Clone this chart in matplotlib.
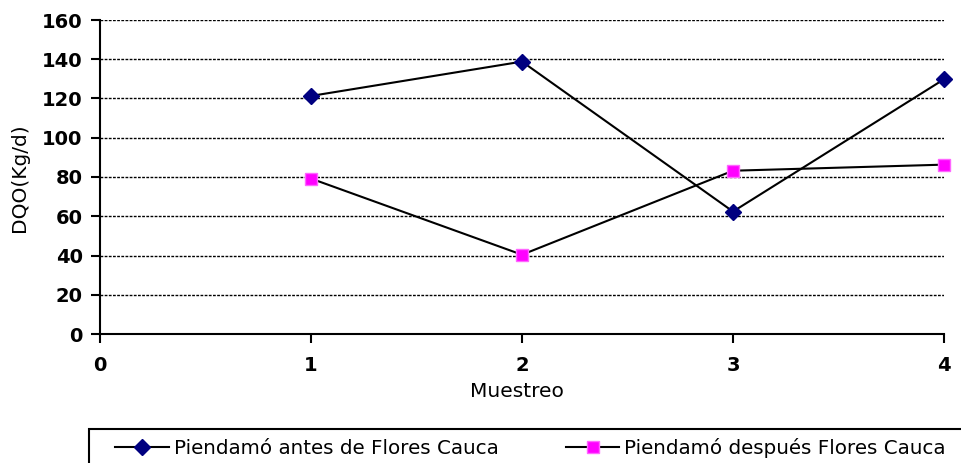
import numpy as np
import matplotlib
matplotlib.use('Agg')
import matplotlib.pyplot as plt
import matplotlib.patches as mpatches

muestreo = [1, 2, 3, 4]
antes = [121.3, 138.8, 62.4, 129.8]
despues = [79.2, 40.4, 83.2, 86.3]
label_antes = 'Piendamó antes de Flores Cauca'
label_despues = 'Piendamó después Flores Cauca'

plt.rc('font', family='DejaVu Sans')
fig = plt.figure(figsize=(9.62, 4.63), dpi=100)
ax = fig.add_axes([100/962, 1-334/463, 844/962, 314/463])

ax.plot(muestreo, antes, '-', color='black', linewidth=1.5, marker='D',
        markersize=8.5, markerfacecolor='#000080', markeredgecolor='#000080',
        label=label_antes, clip_on=False, zorder=3)
ax.plot(muestreo, despues, '-', color='black', linewidth=1.5, marker='s',
        markersize=8, markerfacecolor='#FF00FF', markeredgecolor='#FF66FF',
        label=label_despues, clip_on=False, zorder=3)

ax.set_xlim(0, 4)
ax.set_ylim(0, 160)
ax.set_xticks([0, 1, 2, 3, 4])
ax.set_yticks(np.arange(0, 161, 20))
ax.yaxis.grid(True, linestyle=(0, (2, 1)), color='black', linewidth=1.0)
ax.set_axisbelow(True)
for s in ['top', 'right']:
    ax.spines[s].set_visible(False)
for s in ['left', 'bottom']:
    ax.spines[s].set_linewidth(1.5)
ax.tick_params(axis='both', direction='out', length=6.5, width=1.5, labelsize=14)
ax.tick_params(axis='y', pad=6)
ax.tick_params(axis='x', pad=9)
for t in ax.get_xticklabels() + ax.get_yticklabels():
    t.set_fontweight('bold')

ax.set_xlabel('Muestreo', fontsize=14.5)
ax.xaxis.set_label_coords(0.494, -0.152)
ax.set_ylabel('DQO(Kg/d)', fontsize=14.5)
ax.yaxis.set_label_coords(-0.084, 0.497)

# legend box drawn separately so it can run off the bottom/right edge
box = mpatches.Rectangle((89/962, -0.05), 0.95, 0.05 + 1 - 429/463,
                         transform=fig.transFigure, fill=False,
                         edgecolor='black', linewidth=1.5, clip_on=False)
fig.patches.append(box)
leg = fig.legend(loc='center left', bbox_to_anchor=(115/962, 1-448/463),
                 ncol=2, fontsize=14.3, frameon=False, handlelength=2.7,
                 handletextpad=0.25, borderpad=0, borderaxespad=0,
                 columnspacing=3.4)

plt.savefig('out.png', dpi=100)
